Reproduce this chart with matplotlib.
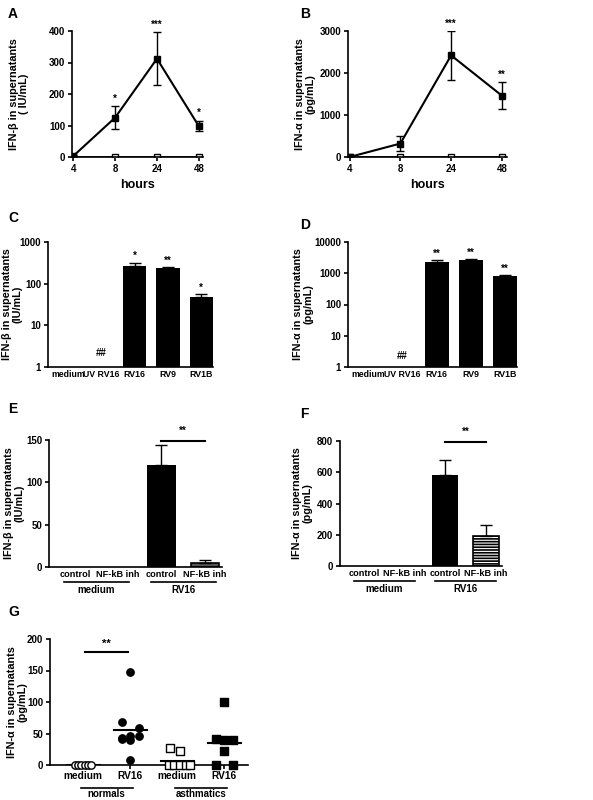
import matplotlib
matplotlib.use("Agg")
import matplotlib.pyplot as plt
import numpy as np

plt.rcParams['font.family'] = ['Liberation Sans', 'DejaVu Sans']
plt.rcParams['font.weight'] = 'bold'
plt.rcParams['axes.linewidth'] = 1.2
plt.rcParams['hatch.linewidth'] = 0.8

W, H = 593, 800
fig = plt.figure(figsize=(W/100, H/100), dpi=100)

def axpx(l, t, r, b):
    ax = fig.add_axes([l/W, 1-b/H, (r-l)/W, (b-t)/H])
    ax.spines['top'].set_visible(False)
    ax.spines['right'].set_visible(False)
    ax.tick_params(labelsize=7, width=1.2, length=3, direction='out', pad=2)
    return ax

def letter(x, y, s):
    fig.text(x/W, 1-y/H, s, fontsize=10, fontweight='bold', va='center', ha='left')

def ylab(x, ycenter, s):
    fig.text(x/W, 1-ycenter/H, s, rotation=90, fontsize=7.8, fontweight='bold',
             ha='center', va='center', multialignment='center', linespacing=1.05)

# ---- data ----
hours = ['4', '8', '24', '48']
A_inf = [3, 125, 312, 98]
A_err = [3, 37, 84, 17]
A_ctl = [0, 0, 0, 0]
A_sig = ['', '*', '***', '*']
B_inf = [0, 320, 2420, 1460]
B_err = [20, 180, 580, 320]
B_ctl = [0, 0, 0, 0]
B_sig = ['', '', '***', '**']

cd_cats = ['medium', 'UV RV16', 'RV16', 'RV9', 'RV1B']
C_vals = [np.nan, np.nan, 260, 240, 48]
C_err = [0, 0, 60, 8, 7]
C_sig = ['', '##', '*', '**', '*']
D_vals = [np.nan, np.nan, 2300, 2600, 820]
D_err = [0, 0, 400, 300, 30]
D_sig = ['', '##', '**', '**', '**']

ef_cats = ['control', 'NF-kB inh', 'control', 'NF-kB inh']
ef_groups = ['medium', 'RV16']
E_vals = [0, 0, 120, 5]
E_err = [0, 0, 24, 3]
F_vals = [0, 0, 580, 190]
F_err = [0, 0, 100, 72]

g_cats = ['medium', 'RV16', 'medium', 'RV16']
g_groups = ['normals', 'asthmatics']
G_norm_med = [0, 0, 0, 0, 0, 0]
G_norm_rv = [148, 69, 59, 46, 46, 43, 42, 40, 8]
G_asth_med = [27, 22, 0, 0, 0, 0, 0]
G_asth_rv = [100, 42, 40, 40, 23, 0, 0]
# horizontal jitter offsets (style)
J_norm_med = [-0.3, -0.18, -0.06, 0.06, 0.18, 0.3]
J_norm_rv = [0, -0.28, 0.3, 0.3, 0, -0.28, -0.28, 0, 0]
J_asth_med = [-0.27, 0.1, -0.3, -0.1, 0.1, 0.3, 0.45]
J_asth_rv = [0, -0.3, 0, 0.3, 0, -0.3, 0.3]

# ---- A/B ----
def timecourse(ax, inf, err, ctl, sig, ymax, yticks):
    x = np.arange(len(hours))
    ax.errorbar(x, inf, yerr=err, color='black', marker='s', ms=5, lw=1.5,
                capsize=3, elinewidth=1, capthick=1)
    ax.plot(x, ctl, marker='s', ms=5, mfc='white', mec='black', color='black', lw=1.2)
    for xi, v, e, s in zip(x, inf, err, sig):
        if s:
            ax.text(xi, v+e+ymax*0.02, s, ha='center', va='bottom', fontsize=7)
    ax.set_xticks(x, hours)
    ax.set_xlim(-0.03, 3.1)
    ax.set_ylim(0, ymax)
    ax.set_yticks(yticks)
    ax.set_xlabel('hours', fontsize=9, fontweight='bold')

axA = axpx(72, 31, 203, 157)
timecourse(axA, A_inf, A_err, A_ctl, A_sig, 400, [0, 100, 200, 300, 400])
ylab(19, 94, 'IFN-β in supernatants\n( IU/mL)')
axB = axpx(348, 31, 507, 157)
timecourse(axB, B_inf, B_err, B_ctl, B_sig, 3000, [0, 1000, 2000, 3000])
ylab(305, 94, 'IFN-α in supernatants\n(pg/mL)')
letter(8, 14, 'A'); letter(300, 14, 'B')

# ---- C/D ----
def logbars(ax, vals, err, sig, ymax):
    x = np.arange(len(cd_cats))
    v = np.array(vals, dtype=float)
    ax.bar(x, np.where(np.isnan(v), 0, v - 1), bottom=1, width=0.7, color='black')
    for xi, vi, e, s in zip(x, v, err, sig):
        if not np.isnan(vi):
            ax.errorbar(xi, vi, yerr=[[0], [e]], color='black', capsize=4, elinewidth=1, capthick=1)
            ax.text(xi, (vi+e)*1.1, s, ha='center', va='bottom', fontsize=7)
        elif s:
            ax.text(xi, 2.2, s, ha='center', va='center', fontsize=7)
    ax.set_yscale('log')
    ax.set_ylim(1, ymax)
    ticks = [10**i for i in range(int(np.log10(ymax))+1)]
    ax.set_yticks(ticks, [str(t) for t in ticks])
    ax.minorticks_off()
    ax.set_xticks(x, cd_cats)
    ax.tick_params(axis='x', length=0, labelsize=6.3)
    ax.set_xlim(-0.6, 4.35)

axC = axpx(48, 242, 213, 367)
logbars(axC, C_vals, C_err, C_sig, 1000)
ylab(12, 304, 'IFN-β in supernatants\n(IU/mL)')
axD = axpx(348, 242, 517, 367)
logbars(axD, D_vals, D_err, D_sig, 10000)
ylab(303, 304, 'IFN-α in supernatants\n(pg/mL)')
letter(8, 218, 'C'); letter(300, 225, 'D')

# ---- E/F ----
def efbars(ax, vals, err, ymax, yticks, hatched):
    x = np.arange(len(ef_cats))
    for xi, v, e in zip(x, vals, err):
        if v <= 0:
            continue
        if xi == 3:
            if hatched:
                ax.bar(xi, v, width=0.65, color='black', edgecolor='white', hatch='------', lw=0)
            else:
                ax.bar(xi, v, width=0.65, color='#555555', lw=0)
            ax.bar(xi, v, width=0.65, fill=False, edgecolor='black', lw=1.2)
        else:
            ax.bar(xi, v, width=0.65, color='black')
        ax.errorbar(xi, v, yerr=[[0], [e]], color='black', capsize=4, elinewidth=1, capthick=1)
    ax.plot([2, 3], [ymax*0.995]*2, color='black', lw=1.5, clip_on=False)
    ax.text(2.5, ymax*1.03, '**', ha='center', va='bottom', fontsize=7)
    ax.set_ylim(0, ymax)
    ax.set_yticks(yticks)
    ax.set_xticks(x, ef_cats)
    ax.tick_params(axis='x', length=0, labelsize=6.6)
    ax.set_xlim(-0.6, 3.4)
    for gi, g in enumerate(ef_groups):
        c = gi*2 + 0.5
        ax.plot([c-0.75, c+0.75], [-0.12, -0.12], color='black', lw=1.2,
                transform=ax.get_xaxis_transform(), clip_on=False)
        ax.text(c, -0.14, g, ha='center', va='top', fontsize=7,
                transform=ax.get_xaxis_transform())

axE = axpx(49, 440, 222, 567)
efbars(axE, E_vals, E_err, 150, [0, 50, 100, 150], False)
ylab(14, 503, 'IFN-β in supernatants\n(IU/mL)')
axF = axpx(340, 441, 502, 566)
efbars(axF, F_vals, F_err, 800, [0, 200, 400, 600, 800], True)
ylab(302, 503, 'IFN-α in supernatants\n(pg/mL)')
letter(8, 409, 'E'); letter(300, 414, 'F')

# ---- G ----
axG = axpx(50, 639, 248, 765)
sets = [(G_norm_med, J_norm_med, 'o', 'white'), (G_norm_rv, J_norm_rv, 'o', 'black'),
        (G_asth_med, J_asth_med, 's', 'white'), (G_asth_rv, J_asth_rv, 's', 'black')]
for i, (vals, jit, m, fc) in enumerate(sets):
    axG.scatter(np.array(jit)*0.6 + i, vals, marker=m, s=28, facecolor=fc,
                edgecolor='black', lw=1, zorder=3, clip_on=False)
    mval = np.mean(vals)
    axG.plot([i-0.35, i+0.35], [mval, mval], color='black', lw=1.5, zorder=2)
axG.plot([0.05, 0.95], [180, 180], color='black', lw=1.5)
axG.text(0.5, 184, '**', ha='center', va='bottom', fontsize=8)
axG.set_ylim(0, 200)
axG.set_yticks([0, 50, 100, 150, 200])
axG.set_xticks(range(4), g_cats)
axG.tick_params(axis='x', labelsize=7.3, pad=1.5)
axG.set_xlim(-0.7, 3.5)
ylab(17, 702, 'IFN-α in supernatants\n(pg/mL)')
for gi, g in enumerate(g_groups):
    c = gi*2 + 0.5
    axG.plot([c-0.55, c+0.55], [-0.18, -0.18], color='black', lw=1.2,
             transform=axG.get_xaxis_transform(), clip_on=False)
    axG.text(c, -0.19, g, ha='center', va='top', fontsize=7,
             transform=axG.get_xaxis_transform())
letter(8, 612, 'G')

fig.savefig('out.png', dpi=100)
